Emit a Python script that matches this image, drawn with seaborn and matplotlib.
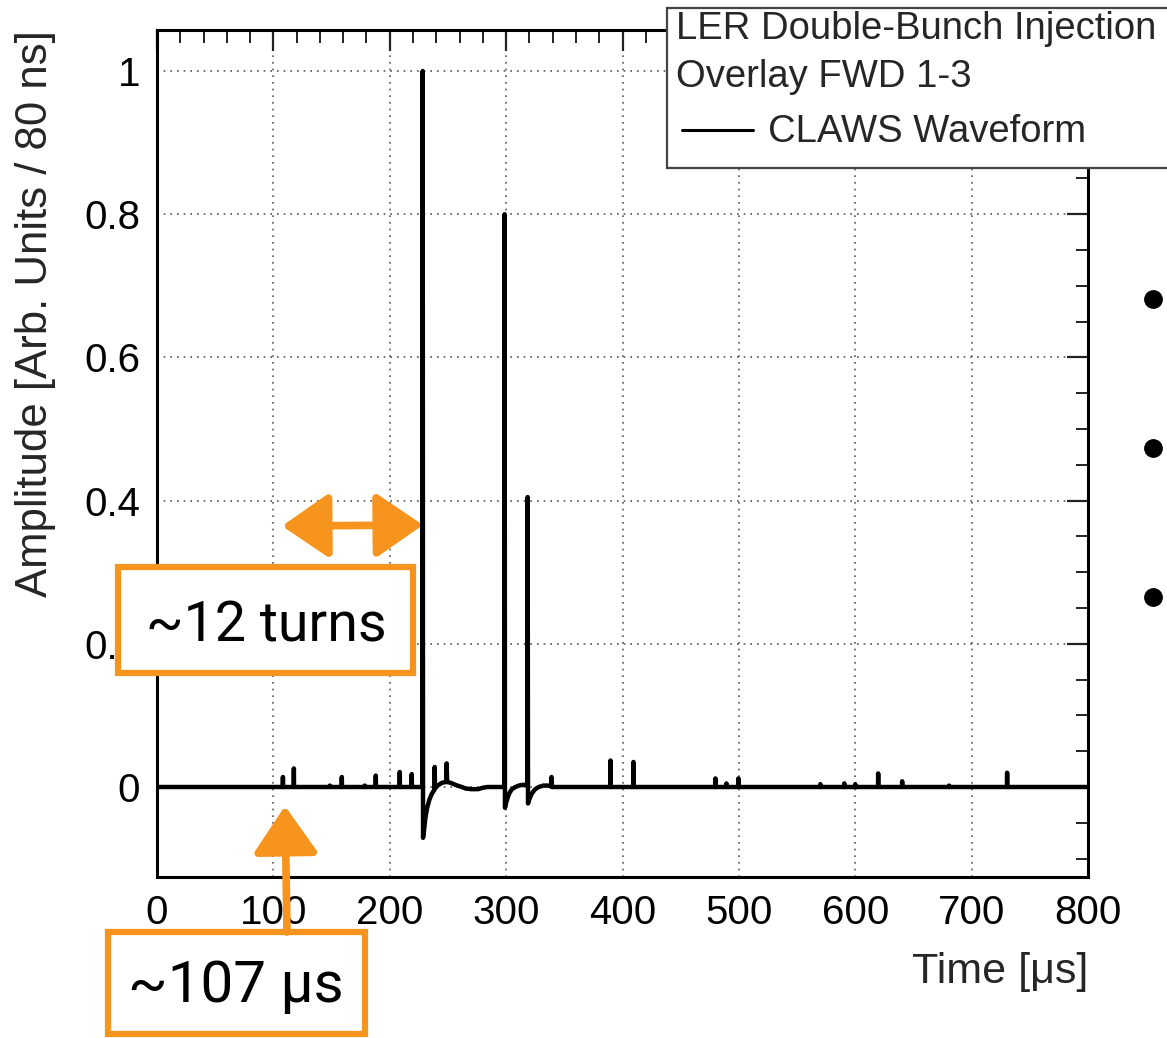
import numpy as np
import pandas as pd
import matplotlib
matplotlib.use("Agg")
import matplotlib.pyplot as plt
import seaborn as sns
from matplotlib.patches import Rectangle, FancyArrowPatch
from matplotlib.lines import Line2D
from matplotlib.ticker import MultipleLocator, FuncFormatter

# Isolated single-sample spikes on the flat baseline (time in µs, amplitude)
spike_time = [108.2, 117.6, 148.5, 158.8, 178.5, 188.0, 208.6, 218.9, 389.7, 409.4,
              479.8, 489.3, 499.6, 570.0, 590.6, 600.0, 619.7, 640.3, 680.7, 730.5]
spike_amp = [0.014, 0.026, 0.002, 0.014, 0.002, 0.016, 0.021, 0.018, 0.037, 0.035,
             0.012, 0.005, 0.012, 0.004, 0.005, 0.004, 0.019, 0.008, 0.002, 0.020]

# First injected bunch: main pulse, undershoot and ringing
first_pulse_time = [228.0, 228.3, 228.6, 229.5, 230.5, 232.0, 234.0, 236.0, 238.3, 238.6,
                    238.9, 241.0, 243.0, 245.0, 248.6, 248.9, 249.3, 252.0, 255.0, 258.0,
                    262.0, 265.0, 270.0, 276.0, 280.0, 284.0]
first_pulse_amp = [0.0, 1.0, -0.071, -0.060, -0.045, -0.030, -0.018, -0.010, -0.004, 0.028,
                   -0.002, 0.002, 0.004, 0.006, 0.007, 0.033, 0.007, 0.006, 0.004, 0.002,
                   0.0, -0.002, -0.003, -0.003, -0.001, 0.0]

# Second bunch pair and its ringing
second_pulse_time = [298.4, 298.7, 299.0, 300.0, 301.5, 303.0, 305.0, 308.0, 311.0, 314.0,
                     318.2, 318.5, 318.8, 320.0, 321.5, 323.0, 325.0, 328.0, 332.0, 336.0,
                     338.7, 339.0, 339.3, 342.0]
second_pulse_amp = [0.0, 0.80, -0.029, -0.022, -0.014, -0.008, -0.003, 0.0, 0.002, 0.003,
                    0.003, 0.405, -0.023, -0.017, -0.011, -0.007, -0.003, 0.0, 0.002, 0.002,
                    0.001, 0.014, 0.0, 0.0]

x_ticks = [0, 100, 200, 300, 400, 500, 600, 700, 800]
y_ticks = [0, 0.2, 0.4, 0.6, 0.8, 1.0]

# ---- assemble the waveform in time order ----
segments = []
for t, a in zip(spike_time, spike_amp):
    segments.append(([t - 0.15, t, t + 0.15], [0.0, a, 0.0]))
segments.append((first_pulse_time, first_pulse_amp))
segments.append((second_pulse_time, second_pulse_amp))
segments.sort(key=lambda s: s[0][0])

times, amps = [0.0], [0.0]
for ts, as_ in segments:
    times.extend(ts)
    amps.extend(as_)
times.append(800.0)
amps.append(0.0)
wave = pd.DataFrame({"time": times, "amp": amps})

# ---- style ----
sns.set_style("white")
plt.rcParams["font.family"] = ["Liberation Sans", "DejaVu Sans"]

W, H = 1167, 1038
fig = plt.figure(figsize=(W / 100, H / 100), dpi=100)
fig.patch.set_facecolor("white")


def fx(x):
    return x / W


def fy(y):
    return 1 - y / H


ax = fig.add_axes([157 / W, (H - 877) / H, (1088 - 157) / W, (877 - 30) / H])

sns.lineplot(data=wave, x="time", y="amp", sort=False, estimator=None,
             color="black", linewidth=3.2, ax=ax)
for ln in ax.get_lines():
    ln.set_solid_joinstyle("round")
    ln.set_zorder(3)

ax.set_xlim(0, 800)
ax.set_ylim(-0.1257, 1.0573)
ax.set_xticks(x_ticks)
ax.set_yticks(y_ticks)
ax.xaxis.set_minor_locator(MultipleLocator(20))
ax.yaxis.set_minor_locator(MultipleLocator(0.05))
ax.yaxis.set_major_formatter(FuncFormatter(lambda v, p: f"{v:g}"))
ax.xaxis.set_major_formatter(FuncFormatter(lambda v, p: f"{v:g}"))

ax.grid(True, which="major", linestyle=(0, (1.0, 3.0)), color="#555555", linewidth=1.2)
ax.set_axisbelow(True)

ax.tick_params(which="both", direction="in", top=True, right=True, colors="#222222",
               labelcolor="black")
ax.tick_params(which="major", length=15, width=1.6, labelsize=29, pad=12)
ax.tick_params(which="minor", length=9, width=1.4)
for sp in ax.spines.values():
    sp.set_linewidth(2.2)
    sp.set_color("black")

ax.set_ylabel("Amplitude [Arb. Units / 80 ns]", loc="top", fontsize=31.5)
ax.yaxis.set_label_coords(-0.109, 1.0)
ax.set_xlabel("Time [μs]", loc="right", fontsize=31)
ax.xaxis.set_label_coords(1.0, -0.089)

# ---- legend box (extends past the right edge) ----
fig.add_artist(Rectangle((fx(667), fy(168)), fx(1190 - 667), (168 - 8) / H,
                         transform=fig.transFigure, facecolor="white",
                         edgecolor="#444444", linewidth=1.6, zorder=5))
leg_fs = 27.5
fig.text(fx(676), fy(29), "LER Double-Bunch Injection", fontsize=leg_fs,
         va="center", ha="left", zorder=6)
fig.text(fx(676), fy(77), "Overlay FWD 1-3", fontsize=leg_fs,
         va="center", ha="left", zorder=6)
fig.add_artist(Line2D([fx(682), fx(753)], [fy(130), fy(130)], color="black",
                      linewidth=2.2, transform=fig.transFigure, zorder=6))
fig.text(fx(768), fy(132), "CLAWS Waveform", fontsize=leg_fs,
         va="center", ha="left", zorder=6)

# ---- orange call-outs ----
orange = "#F7941D"
note_font = ["Roboto", "DejaVu Sans"]

fig.add_artist(Rectangle((fx(118), fy(673)), fx(413 - 118), (673 - 567) / H,
                         transform=fig.transFigure, facecolor="white",
                         edgecolor=orange, linewidth=4.5, zorder=7))
fig.text(fx(266), fy(626), "~12 turns", fontsize=40, family=note_font,
         fontweight="normal", color="black", va="center", ha="center", zorder=8)

fig.add_artist(Rectangle((fx(108), fy(1034)), fx(365 - 108), (1034 - 932) / H,
                         transform=fig.transFigure, facecolor="white",
                         edgecolor=orange, linewidth=4.5, zorder=7))
fig.text(fx(236), fy(986), "~107 μs", fontsize=42, family=note_font,
         fontweight="normal", color="black", va="center", ha="center", zorder=8)

fig.add_artist(FancyArrowPatch((fx(287), fy(932)), (fx(285), fy(806)),
                               transform=fig.transFigure,
                               arrowstyle="-|>,head_length=0.8,head_width=0.55",
                               mutation_scale=36, color=orange, linewidth=5.5,
                               shrinkA=0, shrinkB=0, zorder=7))
fig.add_artist(FancyArrowPatch((fx(282), fy(526)), (fx(423), fy(525)),
                               transform=fig.transFigure,
                               arrowstyle="<|-|>,head_length=0.8,head_width=0.55",
                               mutation_scale=36, color=orange, linewidth=5.5,
                               shrinkA=0, shrinkB=0, zorder=7))

# ---- slide bullets at the right margin ----
for by in (299, 448, 597):
    fig.add_artist(Line2D([fx(1153)], [fy(by)], marker="o", markersize=12.5,
                          color="black", transform=fig.transFigure, zorder=4))

fig.savefig("out.png", dpi=100, facecolor="white")
